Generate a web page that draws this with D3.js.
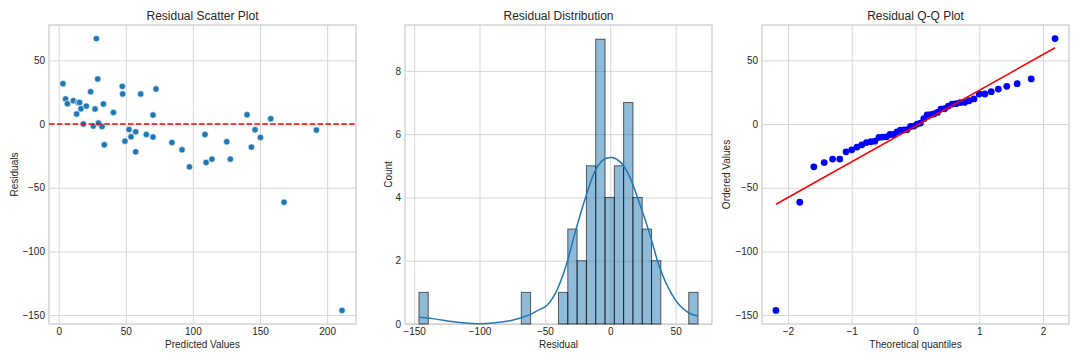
<!DOCTYPE html>
<html><head><meta charset="utf-8">
<script src="https://cdn.jsdelivr.net/npm/d3@7"></script>
<style>body{margin:0;background:#fff} text{font-family:"Liberation Sans",Arial,sans-serif}</style>
</head><body><svg id="chart" width="1080" height="360"></svg>
<script>
// ---- data ----
const predicted = [3.2,5.2,6.5,10.9,13.4,14.4,15.6,16.6,18.4,20.6,23.8,25.8,27.1,28.1,29.1,29.6,32.3,33.3,34.0,40.8,47.4,47.7,49.4,52.4,53.9,57.4,57.4,61.1,65.3,70.3,70.3,72.5,84.4,91.9,97.4,109.0,109.8,114.2,125.2,127.9,140.3,143.6,146.3,150.3,158.0,192.0,167.9,211.1];
const residuals = [31.7,19.7,16.0,18.3,7.9,17.0,16.9,12.0,0.0,14.1,25.4,-1.6,11.8,67.1,35.4,0.8,-1.9,15.7,-16.3,9.1,29.6,23.6,-13.4,-4.3,-10.0,-6.1,-21.8,23.6,-8.2,7.1,-10.2,27.5,-14.5,-20.2,-33.6,-8.2,-30.2,-27.5,-13.9,-27.5,7.3,-18.1,-4.5,-10.5,4.2,-4.7,-61.4,-146.3];
const histCounts = [1,0,0,0,0,0,0,0,0,0, 0,1,0,0,0,1,3,2,5,9, 4,5,7,4,3,2,0,0,0,1];
const kdeX =     [-146.3,-136,-123,-111,-100,-88,-75,-62,-55,-49,-42,-34,-26.3,-18.6,-11,-4.6,1.3,8.2,14.5,22.2,29.9,37.5,45.2,52.8,60.5,67.1];
const kdeCount = [0.21,0.17,0.09,0.03,0.01,0.04,0.12,0.29,0.44,0.57,0.97,1.82,2.98,4.04,4.89,5.21,5.26,5.1,4.68,3.83,2.88,1.82,1.08,0.60,0.34,0.25];
const scatterXTicks = [0,50,100,150,200];
const residualTicks = [-150,-100,-50,0,50];
const countTicks = [0,2,4,6,8];
const histXTicks = [-150,-100,-50,0,50];
const qqXTicks = [-2,-1,0,1,2];
const titles = ["Residual Scatter Plot","Residual Distribution","Residual Q-Q Plot"];
const xLabels = ["Predicted Values","Residual","Theoretical quantiles"];
const yLabels = ["Residuals","Count","Ordered Values"];

// ---- helpers ----
const svg = d3.select("#chart");
svg.append("rect").attr("width",1080).attr("height",360).attr("fill","#fff");
const W = 307, H = 299, TOP = 25;
const lefts = [49, 405, 762];
const yLabelX = [18.3, 391.7, 730];
const TXT = "#262626";
const fmt = d3.format("d");

function pad(ext, f=0.05){ const r = ext[1]-ext[0]; return [ext[0]-r*f, ext[1]+r*f]; }

function makePanel(i, x, y, xt, yt){
  const g = svg.append("g").attr("transform",`translate(${lefts[i]},${TOP})`);
  // grid
  const gx = g.append("g").attr("transform",`translate(0,${H})`)
    .call(d3.axisBottom(x).tickValues(xt).tickSize(-H).tickFormat(""));
  const gy = g.append("g").call(d3.axisLeft(y).tickValues(yt).tickSize(-W).tickFormat(""));
  [gx,gy].forEach(a=>{a.select(".domain").remove(); a.selectAll("line").attr("stroke","#d6d6d6").attr("stroke-width",1);});
  // tick labels
  const lx = g.append("g").attr("transform",`translate(0,${H})`)
    .call(d3.axisBottom(x).tickValues(xt).tickFormat(fmt).tickSize(0).tickPadding(4));
  const ly = g.append("g").call(d3.axisLeft(y).tickValues(yt).tickFormat(fmt).tickSize(0).tickPadding(4));
  [lx,ly].forEach(a=>{a.select(".domain").remove(); a.selectAll("text").attr("fill",TXT).style("font-size","10px").style("font-family","'Liberation Sans',Arial,sans-serif");});
  // frame
  g.append("rect").attr("width",W).attr("height",H).attr("fill","none").attr("stroke","#cccccc").attr("stroke-width",1.25);
  // title & labels
  g.append("text").attr("x",W/2).attr("y",-5.4).attr("text-anchor","middle").attr("fill",TXT).style("font-size","12px").text(titles[i]);
  g.append("text").attr("x",W/2).attr("y",H+24).attr("text-anchor","middle").attr("fill",TXT).style("font-size","10px").text(xLabels[i]);
  svg.append("text").attr("transform",`translate(${yLabelX[i]},${TOP+H/2}) rotate(-90)`).attr("text-anchor","middle").attr("fill",TXT).style("font-size","10px").text(yLabels[i]);
  return g;
}

// ---- panel 1: scatter ----
const yRes = d3.scaleLinear().domain(pad(d3.extent(residuals))).range([H,0]);
const x1 = d3.scaleLinear().domain(pad(d3.extent(predicted))).range([0,W]);
const g1 = makePanel(0, x1, yRes, scatterXTicks, residualTicks);
g1.selectAll("circle.pt").data(predicted).join("circle").attr("class","pt")
  .attr("cx",(d)=>x1(d)).attr("cy",(d,i)=>yRes(residuals[i])).attr("r",3.2)
  .attr("fill","#1f77b4").attr("stroke","#fff").attr("stroke-width",0.6);
g1.append("line").attr("x1",0).attr("x2",W).attr("y1",yRes(0)).attr("y2",yRes(0))
  .attr("stroke","#ff0000").attr("stroke-width",1.5).attr("stroke-dasharray","5.5,2.4");

// ---- panel 2: histogram + kde ----
const rExt = d3.extent(residuals);
const nb = histCounts.length, bw = (rExt[1]-rExt[0])/nb;
const bins = histCounts.map((c,k)=>({x0:rExt[0]+k*bw, x1:rExt[0]+(k+1)*bw, c}));
const x2 = d3.scaleLinear().domain(pad(rExt)).range([0,W]);
const y2 = d3.scaleLinear().domain([0, d3.max(histCounts)*1.05]).range([H,0]);
const g2 = makePanel(1, x2, y2, histXTicks, countTicks);
g2.selectAll("rect.bar").data(bins.filter(b=>b.c>0)).join("rect").attr("class","bar")
  .attr("x",b=>x2(b.x0)).attr("width",b=>x2(b.x1)-x2(b.x0))
  .attr("y",b=>y2(b.c)).attr("height",b=>y2(0)-y2(b.c))
  .attr("fill","rgba(31,119,180,0.5)").attr("stroke","rgba(0,0,0,0.6)").attr("stroke-width",1);
g2.append("path").datum(kdeX.map((v,i)=>[v,kdeCount[i]]))
  .attr("d", d3.line().x(d=>x2(d[0])).y(d=>y2(d[1])).curve(d3.curveCatmullRom.alpha(0.5)))
  .attr("fill","none").attr("stroke","#1f77b4").attr("stroke-width",1.5);

// ---- panel 3: Q-Q ----
function normInv(p){
  const a=[-3.969683028665376e+01,2.209460984245205e+02,-2.759285104469687e+02,1.383577518672690e+02,-3.066479806614716e+01,2.506628277459239e+00];
  const b=[-5.447609879822406e+01,1.615858368580409e+02,-1.556989798598866e+02,6.680131188771972e+01,-1.328068155288572e+01];
  const c=[-7.784894002430293e-03,-3.223964580411365e-01,-2.400758277161838e+00,-2.549732539343734e+00,4.374664141464968e+00,2.938163982698783e+00];
  const d=[7.784695709041462e-03,3.224671290700398e-01,2.445134137142996e+00,3.754408661907416e+00];
  const pl=0.02425;
  let q,r;
  if(p<pl){ q=Math.sqrt(-2*Math.log(p)); return (((((c[0]*q+c[1])*q+c[2])*q+c[3])*q+c[4])*q+c[5])/((((d[0]*q+d[1])*q+d[2])*q+d[3])*q+1); }
  if(p>1-pl){ q=Math.sqrt(-2*Math.log(1-p)); return -(((((c[0]*q+c[1])*q+c[2])*q+c[3])*q+c[4])*q+c[5])/((((d[0]*q+d[1])*q+d[2])*q+d[3])*q+1); }
  q=p-0.5; r=q*q;
  return (((((a[0]*r+a[1])*r+a[2])*r+a[3])*r+a[4])*r+a[5])*q/(((((b[0]*r+b[1])*r+b[2])*r+b[3])*r+b[4])*r+1);
}
const sorted = residuals.slice().sort((a,b)=>a-b);
const n = sorted.length;
const med = sorted.map((_,i)=>{
  const mn = Math.pow(0.5,1/n);
  if(i===n-1) return mn; if(i===0) return 1-mn;
  return (i+1-0.3175)/(n+0.365);
});
const osm = med.map(normInv);
const mx = d3.mean(osm), my = d3.mean(sorted);
const slope = d3.sum(osm,(v,i)=>(v-mx)*(sorted[i]-my))/d3.sum(osm,v=>(v-mx)*(v-mx));
const icpt = my - slope*mx;
const x3 = d3.scaleLinear().domain(pad(d3.extent(osm))).range([0,W]);
const g3 = makePanel(2, x3, yRes, qqXTicks, residualTicks);
g3.selectAll("circle.q").data(osm).join("circle").attr("class","q")
  .attr("cx",d=>x3(d)).attr("cy",(d,i)=>yRes(sorted[i])).attr("r",3.4).attr("fill","#0000ff");
const ox = d3.extent(osm);
g3.append("line").attr("x1",x3(ox[0])).attr("x2",x3(ox[1]))
  .attr("y1",yRes(slope*ox[0]+icpt)).attr("y2",yRes(slope*ox[1]+icpt))
  .attr("stroke","#ff0000").attr("stroke-width",1.5);
</script></body></html>
